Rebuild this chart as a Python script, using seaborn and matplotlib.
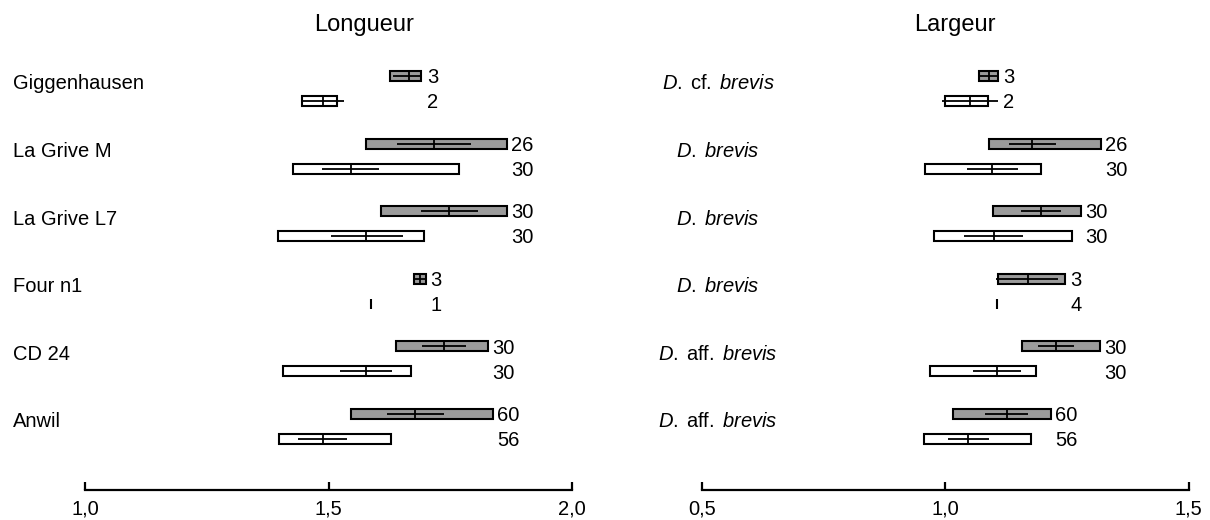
import numpy as np
import seaborn as sns
import matplotlib.pyplot as plt
from matplotlib.transforms import blended_transform_factory

# rows, top to bottom
sites = ["Giggenhausen", "La Grive M", "La Grive L7", "Four n1", "CD 24", "Anwil"]
taxa = [r"$\mathit{D.}\;\mathrm{cf.}\;\mathit{brevis}$", r"$\mathit{D.}\;\mathit{brevis}$",
        r"$\mathit{D.}\;\mathit{brevis}$", r"$\mathit{D.}\;\mathit{brevis}$",
        r"$\mathit{D.}\;\mathrm{aff.}\;\mathit{brevis}$", r"$\mathit{D.}\;\mathrm{aff.}\;\mathit{brevis}$"]

# Longueur - grey (upper) series
len_g_min = [1.626, 1.577, 1.608, 1.676, 1.638, 1.546]
len_g_max = [1.689, 1.866, 1.866, 1.700, 1.827, 1.837]
len_g_mean = [1.666, 1.716, 1.748, 1.688, 1.737, 1.678]
len_g_lo = [1.633, 1.640, 1.690, 1.678, 1.693, 1.620]
len_g_hi = [1.693, 1.792, 1.806, 1.698, 1.782, 1.738]
len_g_n = [3, 26, 30, 3, 30, 60]
# Longueur - white (lower) series
len_w_min = [1.445, 1.428, 1.397, 1.587, 1.407, 1.398]
len_w_max = [1.518, 1.768, 1.696, 1.587, 1.669, 1.628]
len_w_mean = [1.489, 1.546, 1.578, 1.587, 1.577, 1.489]
len_w_lo = [1.443, 1.487, 1.505, 1.587, 1.524, 1.438]
len_w_hi = [1.532, 1.603, 1.652, 1.587, 1.630, 1.539]
len_w_n = [2, 30, 30, 1, 30, 56]

# Largeur - grey
wid_g_min = [1.069, 1.089, 1.098, 1.109, 1.158, 1.017]
wid_g_max = [1.109, 1.319, 1.278, 1.247, 1.318, 1.217]
wid_g_mean = [1.089, 1.178, 1.197, 1.169, 1.227, 1.126]
wid_g_lo = [1.071, 1.131, 1.156, 1.104, 1.191, 1.082]
wid_g_hi = [1.107, 1.227, 1.238, 1.232, 1.264, 1.169]
wid_g_n = [3, 26, 30, 3, 30, 60]
# Largeur - white
wid_w_min = [1.000, 0.959, 0.978, 1.107, 0.969, 0.956]
wid_w_max = [1.087, 1.197, 1.260, 1.107, 1.187, 1.176]
wid_w_mean = [1.050, 1.097, 1.100, 1.107, 1.106, 1.047]
wid_w_lo = [0.993, 1.045, 1.039, 1.107, 1.058, 1.006]
wid_w_hi = [1.109, 1.150, 1.159, 1.107, 1.156, 1.089]
wid_w_n = [2, 30, 30, 4, 30, 56]

sns.set_theme(style="white")
plt.rcParams['font.family'] = ['Liberation Sans', 'DejaVu Sans']
plt.rcParams['mathtext.fontset'] = 'custom'
plt.rcParams['mathtext.rm'] = 'Liberation Sans'
plt.rcParams['mathtext.it'] = 'Liberation Sans:italic'
plt.rcParams['text.color'] = 'black'
plt.rcParams['xtick.color'] = 'black'

W, H = 1210, 520
fig = plt.figure(figsize=(12.1, 5.2), dpi=100)
ax1 = fig.add_axes([85 / W, 30 / H, 487 / W, 440 / H])
ax2 = fig.add_axes([701.7 / W, 30 / H, 487 / W, 440 / H])

rows = np.arange(len(sites))
off = 0.185
bh = 0.148
FS = 14.5


def draw_series(ax, y, mn, mx, mean, lo, hi, color):
    mn, mx = np.array(mn), np.array(mx)
    ax.barh(y, mx - mn, left=mn, height=bh, color=color, edgecolor='black', linewidth=1.5, zorder=1)
    ax.hlines(y, lo, hi, color='black', lw=1.3, zorder=2)
    ax.vlines(mean, y - bh / 2, y + bh / 2, color='black', lw=1.3, zorder=2)


def draw_panel(ax, g, w, xlim, ticks):
    draw_series(ax, rows - off, *g[:5], '#9b9b9b')
    draw_series(ax, rows + off, *w[:5], 'white')
    for i in rows:
        xr = max(g[1][i], g[4][i], w[1][i], w[4][i])
        for y, n in ((i - off, g[5][i]), (i + off, w[5][i])):
            ax.annotate(str(n), (xr, y), xytext=(3.3, -5.2), textcoords='offset points',
                        ha='left', va='baseline', fontsize=FS, annotation_clip=False)
    ax.set_xlim(*xlim)
    ax.set_ylim(5.94, -0.57)
    ax.set_xticks(ticks)
    ax.set_xticklabels([f"{t:.1f}".replace('.', ',') for t in ticks])
    ax.set_yticks([])
    sns.despine(ax=ax, left=True)
    ax.spines['bottom'].set_color('black')
    ax.spines['bottom'].set_linewidth(1.6)
    ax.tick_params(axis='x', bottom=True, direction='in', length=6, width=1.6,
                   pad=7, labelsize=FS)
    ax.patch.set_alpha(0)


draw_panel(ax1, (len_g_min, len_g_max, len_g_mean, len_g_lo, len_g_hi, len_g_n),
           (len_w_min, len_w_max, len_w_mean, len_w_lo, len_w_hi, len_w_n), (1.0, 2.0), [1.0, 1.5, 2.0])
draw_panel(ax2, (wid_g_min, wid_g_max, wid_g_mean, wid_g_lo, wid_g_hi, wid_g_n),
           (wid_w_min, wid_w_max, wid_w_mean, wid_w_lo, wid_w_hi, wid_w_n), (0.5, 1.5), [0.5, 1.0, 1.5])

tr1 = blended_transform_factory(fig.transFigure, ax1.transData)
tr2 = blended_transform_factory(fig.transFigure, ax2.transData)
for i in rows:
    ax1.text(12.7 / W, i + 0.013, sites[i], transform=tr1, ha='left', va='baseline', fontsize=FS)
    ax2.text(718 / W, i + 0.013, taxa[i], transform=tr2, ha='center', va='baseline', fontsize=FS)

fig.text(364 / W, 1 - 31 / H, "Longueur", ha='center', va='baseline', fontsize=17)
fig.text(955 / W, 1 - 31 / H, "Largeur", ha='center', va='baseline', fontsize=17)

fig.savefig("out.png", dpi=100, facecolor='white')
